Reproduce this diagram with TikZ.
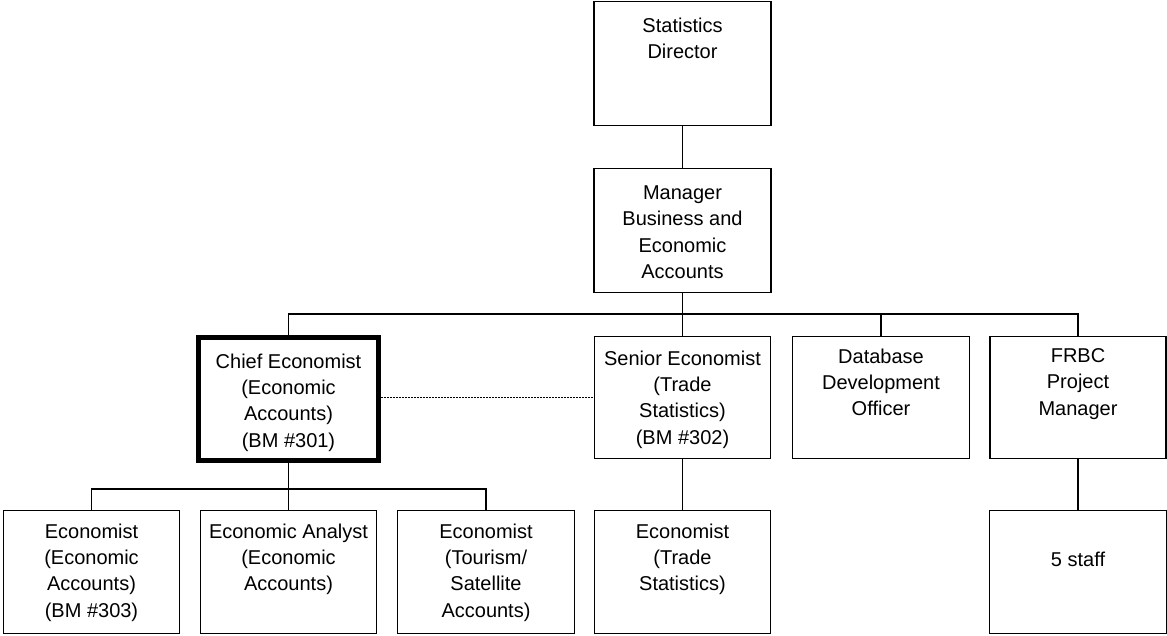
\documentclass[tikz,border=0pt]{standalone}
\usepackage{fontspec}
\setmainfont{Liberation Sans}
\begin{document}
\begin{tikzpicture}[x=1pt,y=-1pt,
  box/.style={draw, line width=1.2pt, inner sep=0pt, rectangle},
  bigbox/.style={draw, line width=5pt, inner sep=0pt, rectangle},
  txt/.style={font=\fontsize{20}{26.3}\selectfont, align=center, inner sep=0pt, anchor=north},
  conn/.style={line width=1.2pt},
  dotline/.style={line width=1pt, dash pattern=on 2pt off 1pt}]
\useasboundingbox (0,0) rectangle (1167,636);
% boxes
\node[box, minimum width=177pt, minimum height=124pt] (dir) at (682.5,63.5) {};
\node[box, minimum width=177pt, minimum height=124pt] (mgr) at (682.5,230.5) {};
\node[bigbox, minimum width=180pt, minimum height=123pt] (chief) at (288.5,399) {};
\node[box, minimum width=176pt, minimum height=122pt] (senior) at (682.5,397.5) {};
\node[box, minimum width=177pt, minimum height=122pt] (db) at (881,397.5) {};
\node[box, minimum width=176pt, minimum height=122pt] (frbc) at (1078,397.5) {};
\node[box, minimum width=176pt, minimum height=123pt] (e1) at (91.5,572) {};
\node[box, minimum width=176pt, minimum height=123pt] (ea) at (288.5,572) {};
\node[box, minimum width=177pt, minimum height=123pt] (e3) at (486,572) {};
\node[box, minimum width=176pt, minimum height=123pt] (et) at (682.5,572) {};
\node[box, minimum width=177pt, minimum height=123pt] (staff) at (1078,572) {};
% texts
\node[txt] (tdir) at (682.5,17.5) {Statistics\\Director};
\node[txt] (tmgr) at (682.5,185.5) {Manager\\Business and\\Economic\\Accounts};
\node[txt] (tchief) at (288.5,353.5) {Chief Economist\\(Economic\\Accounts)\\(BM \#301)};
\node[txt] (tsenior) at (682.5,350.5) {Senior Economist\\(Trade\\Statistics)\\(BM \#302)};
\node[txt] (tdb) at (881,348.5) {Database\\Development\\Officer};
\node[txt] (tfrbc) at (1078,348.5) {FRBC\\Project\\Manager};
\node[txt] (te1) at (91.5,523.5) {Economist\\(Economic\\Accounts)\\(BM \#303)};
\node[txt] (tea) at (288.5,523.5) {Economic Analyst\\(Economic\\Accounts)};
\node[txt] (te3) at (486,523.5) {Economist\\(Tourism/\\Satellite\\Accounts)};
\node[txt] (tet) at (682.5,523.5) {Economist\\(Trade\\Statistics)};
\node[txt] (tstaff) at (1078,551.5) {5 staff};
% connectors
\coordinate (bus1) at (682.5,314);
\coordinate (bus2) at (288.5,489);
\draw[conn] (dir) -- (mgr);
\draw[conn] (mgr) -- (senior);
\draw[conn] (chief.north) |- (bus1) -| (frbc.north);
\draw[conn] (bus1) -| (db.north);
\draw[conn] (chief) -- (ea);
\draw[conn] (e1.north) |- (bus2) -| (e3.north);
\draw[conn] (senior) -- (et);
\draw[conn] (frbc) -- (staff);
\draw[dotline] (chief.east |- senior.west) -- (senior.west);
\end{tikzpicture}
\end{document}
